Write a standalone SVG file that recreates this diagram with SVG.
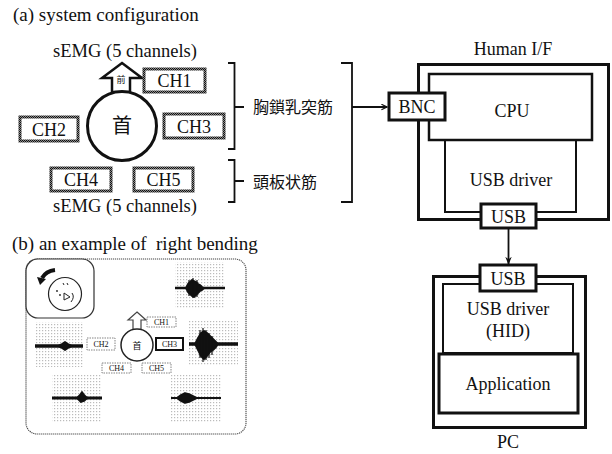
<svg xmlns="http://www.w3.org/2000/svg" width="612" height="454" viewBox="0 0 612 454">
  <style>
    .t { font-family: 'Liberation Serif', 'DejaVu Serif', 'Times New Roman', Times, serif; fill: #111; }
    .j { font-family: 'Noto Sans CJK JP', 'Noto Sans', sans-serif; fill: #111; }
    .chbox { fill: #fff; stroke: url(#checker); stroke-width: 3; }
    .blk { fill: #fff; stroke: #111; }
    .ln { fill: none; stroke: #111; stroke-width: 1.8; }
    .wave { fill: none; stroke: #111; stroke-linejoin: round; }
    .burst { fill: #111; stroke: #111; stroke-width: 1.8; stroke-linejoin: round; }
    .dotbg { fill: url(#stipple); }
    .smallbox { fill: #fff; stroke: #777; stroke-width: 0.9; stroke-dasharray: 1.5 1; }
  </style>
  <defs>
    <pattern id="checker" width="2" height="2" patternUnits="userSpaceOnUse">
      <rect width="2" height="2" fill="#888"/>
      <rect width="1" height="1" fill="#111"/>
      <rect x="1" y="1" width="1" height="1" fill="#111"/>
    </pattern>
    <pattern id="stipple" width="3" height="3" patternUnits="userSpaceOnUse">
      <rect width="3" height="3" fill="#fff"/>
      <rect width="1.2" height="1.2" fill="#bbb"/>
    </pattern>
    <marker id="openHead" viewBox="0 0 10 10" refX="9" refY="5" markerWidth="7" markerHeight="7" orient="auto" markerUnits="userSpaceOnUse">
      <path d="M1 1 L9 5 L1 9" fill="none" stroke="#111" stroke-width="1.6"/>
    </marker>
    <marker id="solidHead" viewBox="0 0 10 10" refX="9" refY="5" markerWidth="8" markerHeight="8" orient="auto" markerUnits="userSpaceOnUse">
      <path d="M0 1 L10 5 L0 9 L3 5 Z" fill="#111"/>
    </marker>
  </defs>

  <!-- (a) system configuration -->
  <text class="t" x="13" y="21" font-size="19">(a) system configuration</text>

  <g id="sensor-layout">
    <text class="t" x="125" y="57" font-size="18.5" text-anchor="middle">sEMG (5 channels)</text>
    <!-- forward arrow -->
    <path d="M122 63 L142 78 L130 78 L130 92 L112 92 L112 78 L102 78 Z" fill="#fff" stroke="#111" stroke-width="2.5" stroke-linejoin="miter"/>
    <text class="j" x="121" y="83" font-size="9" text-anchor="middle">前</text>
    <!-- neck -->
    <circle cx="122" cy="126" r="34.5" fill="#fff" stroke="#111" stroke-width="3"/>
    <text class="j" x="122" y="133" font-size="20" text-anchor="middle">首</text>
  </g>

  <g id="ch1"><rect class="chbox" x="144" y="69" width="61" height="23"/><text class="t" x="174.5" y="87" font-size="18" text-anchor="middle">CH1</text></g>
  <g id="ch2"><rect class="chbox" x="20" y="117" width="58" height="24"/><text class="t" x="49" y="136" font-size="18" text-anchor="middle">CH2</text></g>
  <g id="ch3"><rect class="chbox" x="164" y="114" width="60" height="24"/><text class="t" x="194" y="133" font-size="18" text-anchor="middle">CH3</text></g>
  <g id="ch4"><rect class="chbox" x="51" y="168" width="60" height="23"/><text class="t" x="81" y="186" font-size="18" text-anchor="middle">CH4</text></g>
  <g id="ch5"><rect class="chbox" x="134" y="168" width="59" height="23"/><text class="t" x="163.5" y="186" font-size="18" text-anchor="middle">CH5</text></g>

  <text class="t" x="125" y="212" font-size="18.5" text-anchor="middle">sEMG (5 channels)</text>

  <!-- muscle groups -->
  <g id="scm">
    <text class="j" x="253" y="113" font-size="16">胸鎖乳突筋</text>
  </g>
  <g id="splenius">
    <text class="j" x="253" y="188" font-size="16">頭板状筋</text>
  </g>

  <!-- Human I/F -->
  <g id="human-if">
    <text class="t" x="513" y="55" font-size="18" text-anchor="middle">Human I/F</text>
    <rect class="blk" x="418.5" y="64.5" width="190" height="155" stroke-width="3"/>
  </g>
  <g id="usb-driver-if">
    <rect class="blk" x="445" y="140" width="131" height="72" stroke-width="2"/>
    <text class="t" x="511" y="186" font-size="18" text-anchor="middle">USB driver</text>
  </g>
  <g id="cpu">
    <rect class="blk" x="429" y="74" width="163" height="66" stroke-width="2.5"/>
    <text class="t" x="512" y="117" font-size="18" text-anchor="middle">CPU</text>
  </g>
  <g id="bnc">
    <rect class="blk" x="389" y="93" width="56" height="27" stroke-width="3"/>
    <text class="t" x="417" y="113" font-size="18" text-anchor="middle">BNC</text>
  </g>
  <g id="usb-if">
    <rect class="blk" x="481" y="204" width="55" height="24" stroke-width="3"/>
    <text class="t" x="508.5" y="223" font-size="18" text-anchor="middle">USB</text>
  </g>

  <!-- PC -->
  <g id="pc">
    <rect class="blk" x="433.5" y="276.5" width="152" height="151" stroke-width="3"/>
    <text class="t" x="508" y="448" font-size="18" text-anchor="middle">PC</text>
  </g>
  <g id="usb-driver-pc">
    <rect class="blk" x="443" y="284" width="130" height="69" stroke-width="2"/>
    <text class="t" x="508" y="315" font-size="18" text-anchor="middle">USB driver</text>
    <text class="t" x="508" y="337" font-size="18" text-anchor="middle">(HID)</text>
  </g>
  <g id="application">
    <rect class="blk" x="439" y="354" width="139" height="59" stroke-width="3"/>
    <text class="t" x="508" y="390" font-size="18" text-anchor="middle">Application</text>
  </g>
  <g id="usb-pc">
    <rect class="blk" x="480" y="265" width="56" height="26" stroke-width="3"/>
    <text class="t" x="508" y="285" font-size="18" text-anchor="middle">USB</text>
  </g>

  <!-- connectors -->
  <g id="connectors">
    <path class="ln" d="M228 63 L234.5 63 L234.5 149 L228 149 M234.5 107 L244 107"/>
    <path class="ln" d="M228 160 L234.5 160 L234.5 202 L228 202 M234.5 181 L244 181"/>
    <path class="ln" d="M341 63 L352 63 L352 202 L341 202"/>
    <path class="ln" d="M352 107 L387 107" marker-end="url(#openHead)"/>
    <path class="ln" d="M508.5 229 L508.5 264" marker-end="url(#solidHead)"/>
  </g>

  <!-- (b) an example of right bending -->
  <text class="t" x="12" y="250" font-size="19" xml:space="preserve">(b) an example of  right bending</text>

  <g id="example-panel">
    <rect x="26" y="259" width="220" height="175" rx="11" fill="#fff" stroke="#444" stroke-width="1.1" stroke-dasharray="1.2 0.8"/>

    <!-- head seen from above -->
    <rect x="26" y="259" width="68" height="59" rx="12" fill="#fff" stroke="#333" stroke-width="1.2"/>
    <circle cx="65" cy="294" r="16.5" fill="none" stroke="#222" stroke-width="1.2"/>
    <path d="M55 270 Q46 271 42 278" fill="none" stroke="#111" stroke-width="4"/>
    <path d="M37 277 L46 279 L40 285 Z" fill="#111"/>
    <path d="M63 283 l1 2 M67 283 l1 2" stroke="#222" stroke-width="1"/>
    <circle cx="57" cy="291" r="0.9" fill="#222"/>
    <circle cx="60" cy="295" r="0.9" fill="#222"/>
    <path d="M64 293 L70 297 L64 300 Z" fill="none" stroke="#222" stroke-width="1"/>
    <path d="M72 293 Q75 297 71 302" fill="none" stroke="#222" stroke-width="1"/>

    <!-- signal plots -->
    <rect class="dotbg" x="175" y="262" width="50" height="46"/>
    <path class="wave" stroke-width="2.5" d="M175 288 L225 288"/>
    <path class="burst" d="M186 288 L188 284 L190 282 L192 280 L194 281 L196 282 L198 284 L200 285 L202 287 L204 288 L202 290 L200 291 L198 293 L196 295 L194 297 L192 296 L190 294 L188 292 Z"/>
    <path class="wave" stroke-width="1.2" d="M189 280 L189 296 M193 278 L193 298 M197 280 L197 297"/>

    <rect class="dotbg" x="35" y="322" width="48" height="45"/>
    <path class="wave" stroke-width="3.5" d="M35 346 L83 346"/>
    <path class="burst" d="M58 346 L62 344 L65 342 L68 344 L72 346 L68 348 L65 350 L62 348 Z"/>

    <rect class="dotbg" x="189" y="321" width="49" height="45"/>
    <path class="wave" stroke-width="3.5" d="M189 344 L238 344"/>
    <path class="burst" d="M195 344 L198 338 L201 333 L204 331 L207 333 L210 336 L213 339 L216 342 L218 344 L216 347 L213 350 L210 352 L207 356 L204 359 L201 356 L198 350 Z"/>
    <path class="wave" stroke-width="1.2" d="M200 330 L200 358 M203 328 L203 362 M206 330 L206 360 M209 333 L209 358 M212 336 L212 355"/>

    <rect class="dotbg" x="52" y="375" width="50" height="48"/>
    <path class="wave" stroke-width="3" d="M52 398 L102 398"/>
    <path class="burst" d="M77 398 L80 395 L82 392 L84 395 L87 398 L84 401 L81 402 Z"/>

    <rect class="dotbg" x="171" y="375" width="50" height="48"/>
    <path class="wave" stroke-width="2" d="M171 398 L221 398"/>
    <path class="burst" stroke-width="1.2" d="M177 398 L181 395 L185 393 L189 394 L193 396 L197 398 L193 400 L189 402 L185 403 L181 401 Z"/>

    <!-- small sensor layout -->
    <path d="M137 312 L146 320 L141 320 L141 330 L133 330 L133 320 L128 320 Z" fill="#fff" stroke="#444" stroke-width="1.2"/>
    <circle cx="137" cy="345" r="16" fill="#fff" stroke="#222" stroke-width="1.5"/>
    <text class="j" x="137" y="349" font-size="9" text-anchor="middle">首</text>
    <rect class="smallbox" x="147" y="317" width="29" height="10"/>
    <text class="t" x="161.5" y="325" font-size="8" text-anchor="middle">CH1</text>
    <rect class="smallbox" x="87" y="338" width="28" height="12"/>
    <text class="t" x="101" y="347" font-size="8" text-anchor="middle">CH2</text>
    <rect x="156" y="338" width="27" height="12" fill="#fff" stroke="#111" stroke-width="2"/>
    <text class="t" x="169.5" y="347" font-size="8" text-anchor="middle">CH3</text>
    <rect class="smallbox" x="102" y="363" width="29" height="10"/>
    <text class="t" x="116.5" y="371" font-size="8" text-anchor="middle">CH4</text>
    <rect class="smallbox" x="142" y="363" width="29" height="10"/>
    <text class="t" x="156.5" y="371" font-size="8" text-anchor="middle">CH5</text>
  </g>
</svg>
